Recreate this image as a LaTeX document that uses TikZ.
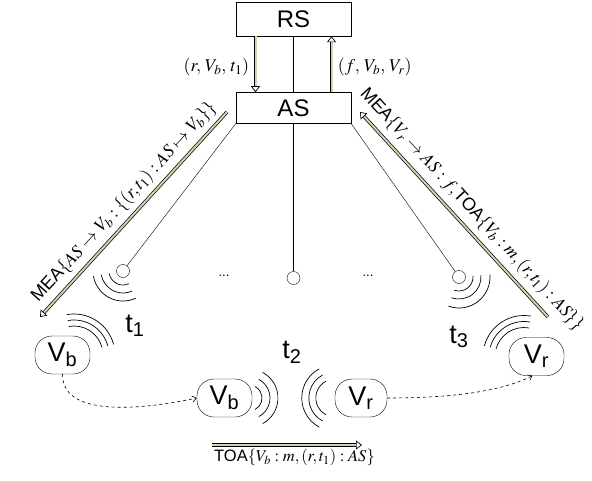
\documentclass[tikz,border=0pt]{standalone}
\usepackage{mathptmx}
\usepackage{fontspec}
\setmainfont{Liberation Sans}
\usepackage{tikz}
\usetikzlibrary{arrows.meta, positioning, calc}
\definecolor{msgfill}{RGB}{212,208,176}

\begin{document}
\begin{tikzpicture}[
    x=1pt, y=1pt,
    >={Straight Barb[length=4pt, width=6pt]},
    server/.style={rectangle, draw, minimum width=115pt, inner sep=0pt, font=\fontsize{24}{26}\selectfont},
    car/.style={rectangle, draw, rounded corners=17pt, minimum width=55pt, minimum height=38pt, inner sep=0pt, font=\fontsize{27}{29}\selectfont},
    antenna/.style={circle, draw, minimum size=13pt, inner sep=0pt},
    msg/.style={draw, double=msgfill, double distance=2pt, line width=0.7pt, -{Triangle[open, length=6pt, width=9pt, line width=0.7pt]}},
    wave/.style={line width=0.7pt},
    lbl/.style={font=\fontsize{18}{20}\selectfont, inner sep=2pt},
    tlabel/.style={font=\fontsize{27}{29}\selectfont}
]
\useasboundingbox (0,0) rectangle (592,-480);

% 1. Servers
\node[server, minimum height=34pt] (rs) at (293.5,-19) {RS};
\node[server, minimum height=31pt, below=56pt of rs] (as) {AS};

% 2. Antennas
\node[antenna] (ant1) at (123,-271) {};
\node[antenna] (ant2) at (293.5,-278) {};
\node[antenna] (ant3) at (459,-277) {};
\node[anchor=base, font=\fontsize{13}{15}\selectfont] (dots1) at (224,-276) {...};
\node[anchor=base, font=\fontsize{13}{15}\selectfont] (dots2) at (368,-276) {...};

% 3. Vehicles
\node[car] (vb1) at (62.5,-355) {V\textsubscript{b}};
\node[car] (vr1) at (536.5,-356.5) {V\textsubscript{r}};
\node[car] (vb2) at (224.5,-398) {V\textsubscript{b}};
\node[car, minimum width=52pt] (vr2) at (361,-398) {V\textsubscript{r}};

\node[tlabel] (t1) at (135,-326) {t\textsubscript{1}};
\node[tlabel] (t2) at (292,-352) {t\textsubscript{2}};
\node[tlabel] (t3) at (459,-337) {t\textsubscript{3}};

% 4. Messages
\coordinate (as_out) at (227,-112);
\coordinate (vb_in) at (40,-317);
\coordinate (vr_out) at (548,-317);
\coordinate (as_in) at (360,-112);
\coordinate (toa_s) at (212,-445);
\coordinate (toa_e) at (362,-445);

\draw (rs) -- (as);
\draw[msg] ([xshift=-38pt]rs.south) -- node[lbl, left=4pt, pos=0.55] {$(r,\,V_b,\,t_1)$} ([xshift=-38pt]as.north);
\draw[msg] ([xshift=38pt]as.north) -- node[lbl, right=4pt, pos=0.45] {$(f,\,V_b,\,V_r)$} ([xshift=38pt]rs.south);

\draw (as.south west) -- (ant1);
\draw (as.south) -- (ant2);
\draw (as.south east) -- (ant3);

\draw[msg] (as_out) -- node[lbl, sloped, above=4pt, pos=0.49] {MEA$\{AS\rightarrow V_b:\{(r,t_1):AS\mapsto V_b\}\}$} (vb_in);
\draw[msg] (vr_out) -- node[lbl, sloped, above=5pt, pos=0.47] {MEA$\{V_r\rightarrow AS:f,$TOA$\{V_b:m,(r,t_1):AS\}\}$} (as_in);
\draw[msg] (toa_s) -- node[lbl, below=2pt, pos=0.55, font=\fontsize{16.5}{19}\selectfont] {TOA$\{V_b:m,(r,t_1):AS\}$} (toa_e);

% 5. Movement
\draw[dashed, line width=0.6pt, ->] (vb1.south) .. controls (62,-420) and (150,-408) .. (vb2.west);
\draw[dashed, line width=0.6pt, ->] (vr2.east) .. controls (450,-398) and (500,-392) .. ([xshift=-4pt]vr1.south);

% 6. Radio waves
\foreach \r in {14,22,30}
  \draw[wave] ([shift={(190:\r)}]ant1.center) arc (190:295:\r);
\foreach \r in {14,22,31}
  \draw[wave] ([shift={(-110:\r)}]ant3.center) arc (-110:5:\r);
\foreach \r in {29,35,41}
  \draw[wave] ([shift={(11.5,0)}]vb1.center) ++(15:\r) arc (15:100:\r);
\foreach \r in {29,35,41}
  \draw[wave] ([shift={(-12.5,0)}]vr1.center) ++(80:\r) arc (80:165:\r);
\foreach \r in {13,21,29}
  \draw[wave] ([shift={(24.5,0)}]vb2.center) ++(-62:\r) arc (-62:62:\r);
\foreach \r in {19,26,33}
  \draw[wave] (vr2.west) ++(118:\r) arc (118:242:\r);

\end{tikzpicture}
\end{document}
